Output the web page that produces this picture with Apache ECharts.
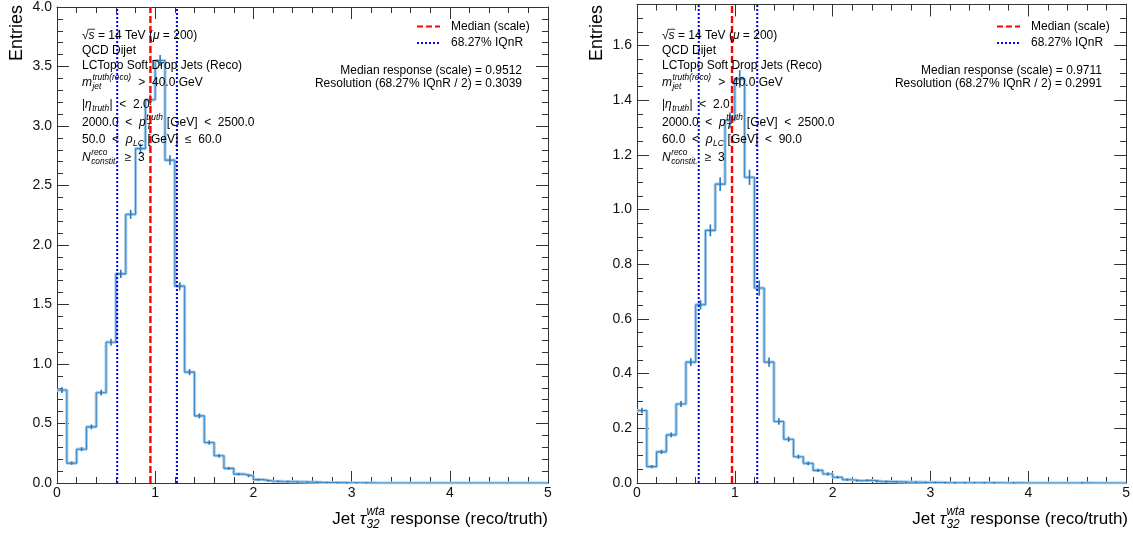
<!DOCTYPE html>
<html>
<head>
<meta charset="utf-8">
<script src="https://cdn.jsdelivr.net/npm/echarts@6/dist/echarts.min.js"></script>
<style>
  html, body { margin: 0; padding: 0; background: #ffffff; }
  #chart { width: 1133px; height: 537px; }
</style>
</head>
<body>
<div id="chart"></div>
<script>
// Histogram binning (0.1 wide bins from 0 to 5)
const binWidth = 0.1;
const xRange = [0, 5];

// Left pad: 50 < rho_LC <= 60 GeV
const leftCounts = [
  0.781, 0.167, 0.284, 0.472, 0.759, 1.183, 1.757, 2.258, 2.810, 3.220,
  3.550, 2.713, 1.654, 0.932, 0.564, 0.340, 0.229, 0.123, 0.075, 0.059,
  0.028, 0.017, 0.013, 0.011, 0.009, 0.007, 0.005, 0.004, 0.003, 0.002,
  0.002, 0.001, 0, 0, 0, 0, 0, 0, 0, 0,
  0, 0, 0, 0, 0, 0, 0, 0, 0, 0
];
const leftErrors = [
  0.020, 0.010, 0.013, 0.016, 0.020, 0.025, 0.030, 0.034, 0.038, 0.040,
  0.042, 0.037, 0.030, 0.022, 0.017, 0.014, 0.011, 0.008, 0.006, 0.006,
  0.004, 0.003, 0.003, 0.003, 0.002, 0.002, 0.002, 0.002, 0.001, 0.001,
  0.001, 0.001, 0, 0, 0, 0, 0, 0, 0, 0,
  0, 0, 0, 0, 0, 0, 0, 0, 0, 0
];
const leftMedian = 0.9512;
const leftIQnR = [0.613, 1.221];
const leftSummary = ['Median response (scale) = 0.9512', 'Resolution (68.27% IQnR / 2) = 0.3039'];

// Right pad: 60 < rho_LC < 90 GeV
const rightCounts = [
  0.265, 0.060, 0.114, 0.176, 0.289, 0.442, 0.652, 0.924, 1.093, 1.326,
  1.478, 1.118, 0.713, 0.442, 0.225, 0.160, 0.096, 0.072, 0.046, 0.033,
  0.021, 0.012, 0.008, 0.010, 0.006, 0.005, 0.004, 0.003, 0.003, 0.002,
  0.002, 0.001, 0.001, 0.001, 0.001, 0.001, 0.001, 0, 0.001, 0,
  0, 0, 0, 0, 0, 0.001, 0, 0, 0, 0
];
const rightErrors = [
  0.008, 0.004, 0.006, 0.007, 0.009, 0.012, 0.015, 0.020, 0.023, 0.027,
  0.030, 0.026, 0.026, 0.015, 0.010, 0.008, 0.006, 0.005, 0.004, 0.004,
  0.003, 0.002, 0.002, 0.002, 0.002, 0.002, 0.001, 0.001, 0.001, 0.001,
  0.001, 0.001, 0.001, 0.001, 0.001, 0.001, 0.001, 0, 0.001, 0,
  0, 0, 0, 0, 0, 0.001, 0, 0, 0, 0
];
const rightMedian = 0.9711;
const rightIQnR = [0.631, 1.229];
const rightSummary = ['Median response (scale) = 0.9711', 'Resolution (68.27% IQnR / 2) = 0.2991'];

// Axis ranges / ticks
const leftYMax = 4.0, leftYInterval = 0.5;
const rightYMax = 1.75, rightYInterval = 0.2;
const legendLabels = ['Median (scale)', '68.27% IQnR'];
const yTitle = 'Entries';

const FONT = '"Liberation Sans", Arial, Helvetica, sans-serif';
const INK = '#000000';
const FRAME = '#333333';

// ---------- text measuring + simple TLatex-like line layout ----------
const measureCtx = document.createElement('canvas').getContext('2d');
function fontStr(size, italic) { return (italic ? 'italic ' : '') + size + 'px ' + FONT; }
function measure(text, size, italic) {
  measureCtx.font = fontStr(size, italic);
  return measureCtx.measureText(text).width;
}
function textEl(x, y, text, size, italic, align, rotation) {
  const el = {
    type: 'text', x: x, y: y, silent: true, z: 100,
    style: {
      text: text, font: fontStr(size, italic), fill: INK,
      textAlign: align || 'left', textVerticalAlign: 'middle',
      align: align || 'left', verticalAlign: 'middle'
    }
  };
  if (rotation) el.rotation = rotation;
  return el;
}
// parts: {t, it, over} for inline text, {sup, sub, it} for stacked scripts
function latexLine(x0, y, parts, size, anchor) {
  const ss = size * 0.7;
  const widths = parts.map(p => p.t !== undefined
    ? measure(p.t, size, p.it)
    : Math.max(p.sup ? measure(p.sup, ss, p.it) : 0, p.sub ? measure(p.sub, ss, p.it) : 0) + 1);
  const total = widths.reduce((a, b) => a + b, 0);
  let x = anchor === 'right' ? x0 - total : x0;
  const els = [];
  parts.forEach((p, i) => {
    if (p.t !== undefined) {
      els.push(textEl(x, y, p.t, size, p.it));
      if (p.over) {
        els.push({ type: 'line', silent: true, z: 100,
          shape: { x1: x - 1, y1: y - size * 0.52, x2: x + widths[i] + 0.5, y2: y - size * 0.52 },
          style: { stroke: INK, lineWidth: 0.8 } });
      }
    } else {
      if (p.sup) els.push(textEl(x + 0.5, y - size * 0.42, p.sup, ss, p.it));
      if (p.sub) els.push(textEl(x + 0.5, y + size * 0.32, p.sub, ss, p.it));
    }
    x += widths[i];
  });
  return els;
}

// ---------- per-pad decorations ----------
function padGraphics(pad, rhoLine) {
  const els = [];
  const size = 12;
  const tx = pad.left + 25;
  const ys = [35.5, 51, 65.5, 83, 104.5, 123, 139.5, 158];
  const lines = [
    [{ t: '\u221A' }, { t: 's', it: true, over: true }, { t: ' = 14 TeV (' }, { t: '\u03BC', it: true }, { t: ' = 200)' }],
    [{ t: 'QCD Dijet' }],
    [{ t: 'LCTopo Soft Drop Jets (Reco)' }],
    [{ t: 'm', it: true }, { sup: 'truth(reco)', sub: 'jet', it: true }, { t: '  >  40.0 GeV' }],
    [{ t: '|' }, { t: '\u03B7', it: true }, { sup: '', sub: 'truth', it: true }, { t: '|  <  2.0' }],
    [{ t: '2000.0  <  ' }, { t: 'p', it: true }, { sup: 'truth', sub: 'T', it: true }, { t: ' [GeV]  <  2500.0' }],
    rhoLine,
    [{ t: 'N', it: true }, { sup: 'reco', sub: 'constit.', it: true }, { t: '  \u2265  3' }]
  ];
  lines.forEach((parts, i) => { els.push(...latexLine(tx, ys[i], parts, size, 'left')); });

  // legend entries
  const lx0 = pad.right - 131, lx1 = pad.right - 108;
  els.push({ type: 'line', silent: true, z: 100, shape: { x1: lx0, y1: 26.5, x2: lx1, y2: 26.5 },
    style: { stroke: '#ff0000', lineWidth: 2.2, lineDash: [6, 3] } });
  els.push({ type: 'line', silent: true, z: 100, shape: { x1: lx0, y1: 43, x2: lx1, y2: 43 },
    style: { stroke: '#0000ff', lineWidth: 2, lineDash: [2, 2] } });
  els.push(textEl(pad.right - 97, 26.5, legendLabels[0], size, false, 'left'));
  els.push(textEl(pad.right - 97, 43, legendLabels[1], size, false, 'left'));

  // summary numbers
  els.push(textEl(pad.right - 26, 70.5, pad.summary[0], size, false, 'right'));
  els.push(textEl(pad.right - 26, 83.5, pad.summary[1], size, false, 'right'));

  // axis titles
  els.push(textEl(pad.left - 40, 5, yTitle, 18, false, 'right', Math.PI / 2));
  els.push(...latexLine(pad.right, 519, [
    { t: 'Jet ' }, { t: '\u03C4', it: true }, { sup: 'wta', sub: '32', it: true }, { t: ' response (reco/truth)' }
  ], 17, 'right'));
  return els;
}

// ---------- series builders ----------
function stepData(counts) {
  const d = counts.map((v, i) => [xRange[0] + i * binWidth, v]);
  d.push([xRange[1], counts[counts.length - 1]]);
  return d;
}
function histSeries(counts, gi) {
  return [
    { type: 'line', xAxisIndex: gi * 2, yAxisIndex: gi * 2, data: stepData(counts), step: 'end',
      symbol: 'none', silent: true, z: 3, lineStyle: { color: '#a9cdeb', width: 3.2 } },
    { type: 'line', xAxisIndex: gi * 2, yAxisIndex: gi * 2, data: stepData(counts), step: 'end',
      symbol: 'none', silent: true, z: 4, lineStyle: { color: '#3f8ac6', width: 1.1 } }
  ];
}
function errorSeries(counts, errors, gi) {
  const data = [];
  counts.forEach((v, i) => { if (v > 0) data.push([xRange[0] + (i + 0.5) * binWidth, v, errors[i]]); });
  return {
    type: 'custom', xAxisIndex: gi * 2, yAxisIndex: gi * 2, silent: true, z: 5, data: data,
    encode: { x: 0, y: 1 },
    renderItem: function (params, api) {
      const x = api.value(0), v = api.value(1), e = api.value(2);
      const lo = api.coord([x, v - e]), hi = api.coord([x, v + e]);
      return { type: 'line', shape: { x1: lo[0], y1: Math.max(lo[1], hi[1]) + 0.5, x2: hi[0], y2: Math.min(lo[1], hi[1]) - 0.5 },
        style: { stroke: '#2a78b8', lineWidth: 1.6 } };
    }
  };
}
function vline(x, yMax, gi, color, dash, width, name) {
  return { type: 'line', name: name, xAxisIndex: gi * 2, yAxisIndex: gi * 2, data: [[x, 0], [x, yMax]],
    symbol: 'none', silent: true, z: 6, lineStyle: { color: color, width: width, type: dash } };
}

// ---------- axes ----------
function xAxes(gi) {
  const common = {
    type: 'value', gridIndex: gi, min: xRange[0], max: xRange[1], interval: 1,
    axisLine: { show: true, onZero: false, lineStyle: { color: FRAME, width: 1 } },
    axisTick: { show: true, inside: true, length: 12, lineStyle: { color: FRAME } },
    minorTick: { show: true, splitNumber: 5, length: 6, lineStyle: { color: FRAME } },
    splitLine: { show: false }
  };
  return [
    Object.assign({}, common, { position: 'bottom',
      axisLabel: { show: true, margin: 3, fontSize: 14, fontFamily: FONT, color: '#111' } }),
    Object.assign({}, common, { position: 'top', axisLabel: { show: false } })
  ];
}
function yAxes(gi, yMax, interval, minorSplit, showMax) {
  const common = {
    type: 'value', gridIndex: gi, min: 0, max: yMax, interval: interval,
    axisLine: { show: true, onZero: false, lineStyle: { color: FRAME, width: 1 } },
    axisTick: { show: true, inside: true, length: 12, lineStyle: { color: FRAME } },
    minorTick: { show: true, splitNumber: minorSplit, length: 6, lineStyle: { color: FRAME } },
    splitLine: { show: false }
  };
  return [
    Object.assign({}, common, { position: 'left',
      axisLabel: { show: true, margin: 5, fontSize: 14, fontFamily: FONT, color: '#111',
        showMaxLabel: showMax, formatter: v => v.toFixed(1) } }),
    Object.assign({}, common, { position: 'right', axisLabel: { show: false } })
  ];
}

const pads = [
  { left: 57, right: 548, summary: leftSummary },
  { left: 637, right: 1128, summary: rightSummary }
];

const chart = echarts.init(document.getElementById('chart'), null, { renderer: 'canvas' });
chart.setOption({
  animation: false,
  backgroundColor: '#ffffff',
  grid: [
    { left: pads[0].left, width: pads[0].right - pads[0].left, top: 4.5, bottom: 54 },
    { left: pads[1].left, width: pads[1].right - pads[1].left, top: 4.5, bottom: 54 }
  ],
  xAxis: [...xAxes(0), ...xAxes(1)],
  yAxis: [...yAxes(0, leftYMax, leftYInterval, 5, true), ...yAxes(1, rightYMax, rightYInterval, 4, false)],
  series: [
    ...histSeries(leftCounts, 0),
    errorSeries(leftCounts, leftErrors, 0),
    vline(leftIQnR[0], leftYMax, 0, '#0000ff', [2, 2], 2, legendLabels[1]),
    vline(leftIQnR[1], leftYMax, 0, '#0000ff', [2, 2], 2, legendLabels[1]),
    vline(leftMedian, leftYMax, 0, '#ff0000', [7, 3], 2.4, legendLabels[0]),
    ...histSeries(rightCounts, 1),
    errorSeries(rightCounts, rightErrors, 1),
    vline(rightIQnR[0], rightYMax, 1, '#0000ff', [2, 2], 2, legendLabels[1]),
    vline(rightIQnR[1], rightYMax, 1, '#0000ff', [2, 2], 2, legendLabels[1]),
    vline(rightMedian, rightYMax, 1, '#ff0000', [7, 3], 2.4, legendLabels[0])
  ],
  graphic: [
    ...padGraphics(pads[0], [{ t: '50.0  <  ' }, { t: '\u03C1', it: true }, { sup: '', sub: 'LC', it: true }, { t: ' [GeV]  \u2264  60.0' }]),
    ...padGraphics(pads[1], [{ t: '60.0  <  ' }, { t: '\u03C1', it: true }, { sup: '', sub: 'LC', it: true }, { t: ' [GeV]  <  90.0' }])
  ]
});
</script>
</body>
</html>
